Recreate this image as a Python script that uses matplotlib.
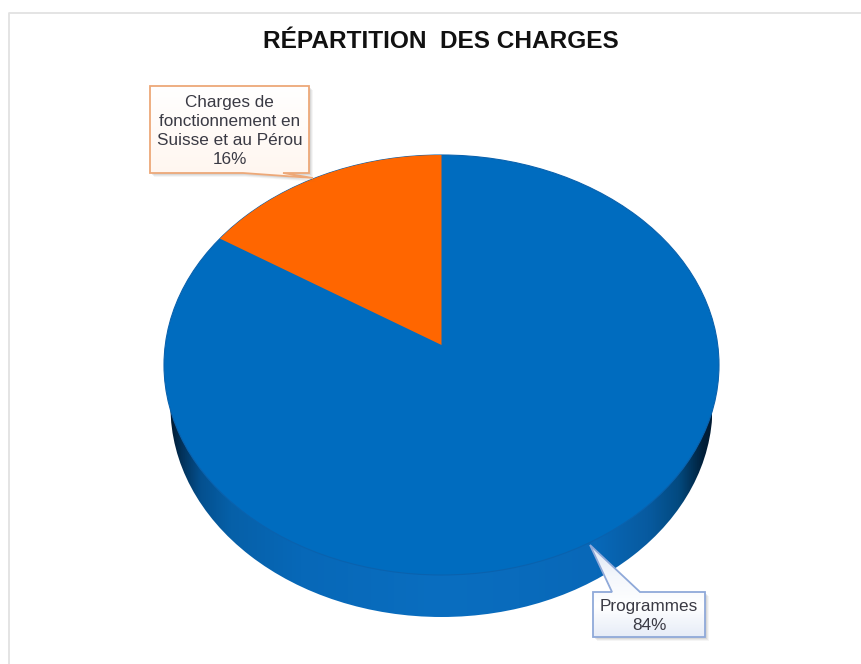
import numpy as np
import matplotlib
matplotlib.use('Agg')
import matplotlib.pyplot as plt
from matplotlib.patches import Ellipse, Polygon
from matplotlib.colors import LinearSegmentedColormap

plt.rcParams['font.family'] = ['Liberation Sans', 'DejaVu Sans']

#%% data
titre = 'RÉPARTITION  DES CHARGES'
categories = ['Programmes', 'Charges de\nfonctionnement en\nSuisse et au Pérou']
valeurs = [84, 16]
couleurs = ['#006CBF', '#FF6600']

#%% pie geometry, in picture pixels
cx, cy, rx, ry = 441.5, 365, 277.5, 210
apex = (441.5, 345)
depth = 42


def arc_point(theta):
    # ray from the off-centre apex onto the tilted top ellipse
    dx, dy = rx*np.sin(theta), -ry*np.cos(theta)
    ax0, ay0 = (apex[0]-cx)/rx, (apex[1]-cy)/ry
    ux, uy = dx/rx, dy/ry
    a = ux**2+uy**2
    b = 2*(ax0*ux+ay0*uy)
    c = ax0**2+ay0**2-1
    t = (-b+np.sqrt(b**2-4*a*c))/(2*a)
    return apex[0]+t*dx, apex[1]+t*dy


def wedge(start, stop):
    thetas = np.linspace(start, stop, 120)
    pts = [apex]+[arc_point(t) for t in thetas]
    return pts


def callout(ax, pts, edge, face=None, grad=None):
    # soft shadow first
    for off, al in [(4, 0.07), (3, 0.10), (2, 0.14)]:
        ax.add_patch(Polygon([(x+off, y+off) for x, y in pts], closed=True,
                             fc='#777777', ec='none', alpha=al, zorder=5))
    poly = Polygon(pts, closed=True, fc=face if face else 'none', ec=edge, lw=1.3, zorder=6)
    ax.add_patch(poly)
    if grad is not None:
        xs = [p[0] for p in pts]
        ys = [p[1] for p in pts]
        im = ax.imshow(np.linspace(0, 1, 64).reshape(-1, 1), cmap=grad, aspect='auto',
                       extent=(min(xs), max(xs), max(ys), min(ys)), zorder=5.5)
        im.set_clip_path(Polygon(pts, closed=True, transform=ax.transData))


#%%
fig = plt.figure(figsize=(8.62, 6.64), dpi=100)
ax = fig.add_axes([0, 0, 1, 1])

# side of the pie, only really dark at both ends
side = LinearSegmentedColormap.from_list('side', [(0, '#011B33'), (0.02, '#02325A'), (0.055, '#04508F'),
                                                   (0.11, '#0660A8'), (0.24, '#0768B8'),
                                                   (0.50, '#0A6EC0'), (0.79, '#0868B8'),
                                                   (0.885, '#075A9F'), (0.94, '#034A80'),
                                                   (0.985, '#01203A'), (1, '#011B33')])
im = ax.imshow(np.linspace(0, 1, 256).reshape(1, -1), cmap=side, aspect='auto',
               extent=(cx-271, cx+271, cy+depth+215, cy), zorder=1)
im.set_clip_path(Ellipse((cx, cy+depth), 542, 2*ry, transform=ax.transData))

# top face
ax.add_patch(Ellipse((cx, cy), 2*rx, 2*ry, fc=couleurs[0], ec='#0A62AE', lw=0.8, zorder=2))
part = valeurs[1]/sum(valeurs)
ax.add_patch(Polygon(wedge(-2*np.pi*part, 0), closed=True, fc=couleurs[1], ec='none', zorder=3))

# frame of the picture
ax.plot([9, 9, 862], [664, 13, 13], color='#E2E2E2', lw=1.3, zorder=4)

ax.text(441, 41, titre, ha='center', va='center', fontsize=17.6, fontweight='bold', color='#111111', zorder=8)

# callouts
orange = LinearSegmentedColormap.from_list('o', ['#FFFFFF', '#FFF6EF'])
bleu = LinearSegmentedColormap.from_list('b', ['#DCE6F4', '#F4F7FC', '#FFFFFF', '#E6ECF7'])
callout(ax, [(150, 86), (309, 86), (309, 173), (283, 173), (313, 178), (243, 173), (150, 173)],
        '#EDA878', grad=orange)
callout(ax, [(593, 592), (612, 592), (590, 545), (640, 592), (705, 592), (705, 637), (593, 637)],
        '#8FA9D9', grad=bleu)

ax.text(229.5, 131, categories[1]+'\n%d%%' % valeurs[1], ha='center', va='center', fontsize=12.3,
        color='#3A3A44', linespacing=1.36, zorder=8)
ax.text(649, 616, categories[0]+'\n%d%%' % valeurs[0], ha='center', va='center', fontsize=12.3,
        color='#3A3A44', linespacing=1.36, zorder=8)

ax.set_xlim(0, 862)
ax.set_ylim(664, 0)
ax.axis('off')

fig.savefig('out.png', dpi=100, facecolor='white')
